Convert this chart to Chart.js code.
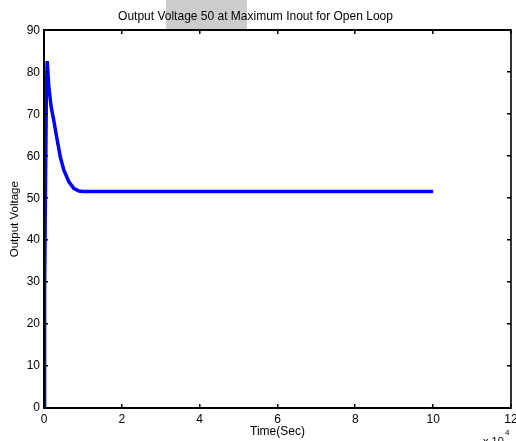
<!DOCTYPE html>
<html>
<head>
<meta charset="utf-8">
<script src="https://cdn.jsdelivr.net/npm/chart.js@4/dist/chart.umd.min.js"></script>
<style>
html,body{margin:0;padding:0;background:#fff;}
#wrap{width:516px;height:441px;position:relative;}
</style>
</head>
<body>
<div id="wrap"><canvas id="c" width="516" height="441"></canvas></div>
<script>
// Time in units of 1e4 seconds
const timeValues = [0, 0.01, 0.02, 0.04, 0.06, 0.082, 0.124, 0.185, 0.25, 0.34, 0.42, 0.51, 0.64, 0.77, 0.9, 1.0, 2, 3, 4, 5, 6, 7, 8, 9, 10];
const voltageValues = [0, 12, 28, 55, 75, 82.7, 76.5, 71.7, 68.6, 63.8, 59.8, 56.7, 53.9, 52.3, 51.7, 51.6, 51.6, 51.6, 51.6, 51.6, 51.6, 51.6, 51.6, 51.6, 51.6];
const xTicks = [0, 2, 4, 6, 8, 10, 12];
const yTicks = [0, 10, 20, 30, 40, 50, 60, 70, 80, 90];

const points = timeValues.map((t, i) => ({x: t, y: voltageValues[i]}));
const FONT = 'Liberation Sans, Arial, sans-serif';

const framePlugin = {
  id: 'frame',
  beforeDraw(chart) {
    const ctx = chart.ctx;
    ctx.save();
    ctx.fillStyle = '#ffffff';
    ctx.fillRect(0, 0, chart.width, chart.height);
    // scan artifact grey rectangle behind title
    ctx.fillStyle = '#cccccc';
    ctx.fillRect(166, 0, 81, 29);
    ctx.restore();
  },
  afterDraw(chart) {
    const ctx = chart.ctx;
    const a = chart.chartArea;
    const xs = chart.scales.x, ys = chart.scales.y;
    const l = Math.round(a.left), r = Math.round(a.right), t = Math.round(a.top), b = Math.round(a.bottom);
    ctx.save();
    ctx.fillStyle = '#000';
    ctx.fillRect(l - 1, t - 1, r - l + 1, 2);
    ctx.fillRect(l - 1, b - 1, r - l + 1, 2);
    ctx.fillRect(l - 1, t - 1, 2, b - t + 2);
    ctx.fillStyle = '#333';
    ctx.fillRect(r - 1, t - 1, 2, b - t + 2);
    ctx.fillStyle = '#000';
    const L = 4;
    xTicks.forEach(v => {
      const px = Math.round(xs.getPixelForValue(v));
      ctx.fillRect(px - 1, b - L, 1.5, L);
      ctx.fillRect(px - 1, t, 1.5, L);
    });
    yTicks.forEach(v => {
      const py = Math.round(ys.getPixelForValue(v));
      ctx.fillRect(l, py - 1, L, 1.5);
      ctx.fillRect(r - L, py - 1, L, 1.5);
    });
    // exponent label
    ctx.font = '11px ' + FONT;
    ctx.textBaseline = 'alphabetic';
    ctx.textAlign = 'left';
    ctx.fillText('x 10', 483, 445);
    ctx.font = '8px ' + FONT;
    ctx.fillText('4', 505, 435);
    ctx.restore();
  }
};

new Chart(document.getElementById('c'), {
  type: 'line',
  data: {
    datasets: [{
      data: points,
      borderColor: '#0000ff',
      backgroundColor: '#0000ff',
      borderWidth: 3.5,
      pointRadius: 0,
      tension: 0,
      fill: false
    }]
  },
  options: {
    responsive: false,
    animation: false,
    devicePixelRatio: 1,
    layout: {padding: {left: 0, right: 5, top: 0, bottom: 0}},
    plugins: {
      legend: {display: false},
      tooltip: {enabled: false},
      title: {
        display: true,
        text: 'Output Voltage 50 at Maximum Inout for Open Loop',
        color: '#000',
        font: {family: FONT, size: 12, weight: 'normal'},
        padding: {top: 9, bottom: 7}
      }
    },
    scales: {
      x: {
        type: 'linear',
        min: 0, max: 12,
        afterBuildTicks(s) { s.ticks = xTicks.map(v => ({value: v})); },
        afterFit(s) { s.height = 33; s.paddingLeft = 0; s.paddingRight = 0; },
        grid: {display: false, drawTicks: false},
        border: {display: false},
        ticks: {color: '#000', font: {family: FONT, size: 12}, padding: 4, maxRotation: 0, autoSkip: false},
        title: {display: true, text: 'Time(Sec)', color: '#000', font: {family: FONT, size: 12}, padding: {top: 0, bottom: 2}}
      },
      y: {
        type: 'linear',
        min: 0, max: 90,
        afterBuildTicks(s) { s.ticks = yTicks.map(v => ({value: v})); },
        afterFit(s) { s.width = 44; s.paddingTop = 0; s.paddingBottom = 0; },
        grid: {display: false, drawTicks: false},
        border: {display: false},
        ticks: {color: '#000', font: {family: FONT, size: 12}, padding: 4, autoSkip: false},
        title: {display: true, text: 'Output Voltage', color: '#000', font: {family: FONT, size: 11.5}, padding: {top: 8, bottom: 0}}
      }
    }
  },
  plugins: [framePlugin]
});
</script>
</body>
</html>
